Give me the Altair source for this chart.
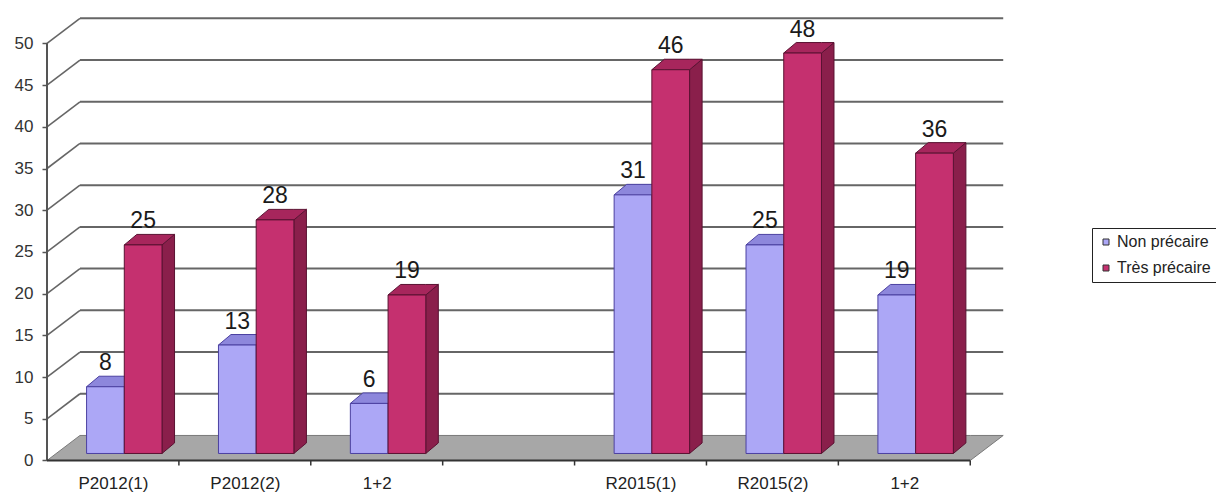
import json

import altair as alt
import pandas as pd

# ---- data -------------------------------------------------------------
categories = ["P2012(1)", "P2012(2)", "1+2", "R2015(1)", "R2015(2)", "1+2"]
slots = [0, 1, 2, 4, 5, 6]          # slot 3 stays empty between the two periods
series = ["Non précaire", "Très précaire"]
non_precaire = [8, 13, 6, 31, 25, 19]
tres_precaire = [25, 28, 19, 46, 48, 36]
y_ticks = list(range(0, 55, 5))

# ---- styling ----------------------------------------------------------
front_colors = ["#aca7f6", "#c5306f"]
top_colors = ["#8d87dc", "#a7265c"]
side_colors = ["#7c76c9", "#8a1f4b"]
edge_colors = ["#4b40a0", "#5a1232"]
FONT = "Liberation Sans"

# pseudo-3D projection, expressed in data units (x: slots, y: values)
N_SLOTS = 7
WALL_DX, WALL_DY = 0.25, 3.0      # depth of floor and side wall
BAR_DX, BAR_DY = 0.095, 1.26      # depth of a single bar
BAR_BASE = 0.84                   # bars stand a little behind the front edge
BAR_LEFT = [0.30, 0.586]          # left edge of each series inside a slot
BAR_W = 0.286

X_DOMAIN = [0, 7.4]
Y_DOMAIN = [-1.5, 54]
PX_PER_SLOT = 131.9
PX_PER_UNIT = 8.34
W = round((X_DOMAIN[1] - X_DOMAIN[0]) * PX_PER_SLOT)
H = round((Y_DOMAIN[1] - Y_DOMAIN[0]) * PX_PER_UNIT)
PAD_L, PAD_T, PAD_B = 47, 10, 20
PAD_R = 1216 - PAD_L - W

values = [non_precaire, tres_precaire]

# ---- derived geometry tables -------------------------------------------
fronts, tops, sides, labels = [], [], [], []
for i, name in enumerate(series):
    for j, (slot, v) in enumerate(zip(slots, values[i])):
        xl = slot + BAR_LEFT[i]
        xr = xl + BAR_W
        b = BAR_BASE
        t = BAR_BASE + v
        fid = f"{i}-{j}"
        fronts.append(dict(x=xl, x2=xr, y=b, y2=t, serie=name, edge=edge_colors[i]))
        for px, lo, hi in [(xl, t, t), (xl + BAR_DX, t, t + BAR_DY),
                           (xr, t, t + BAR_DY), (xr + BAR_DX, t + BAR_DY, t + BAR_DY)]:
            tops.append(dict(x=px, y=lo, y2=hi, face=fid, fill=top_colors[i], edge=edge_colors[i]))
        for px, lo, hi in [(xr, b, t), (xr + BAR_DX, b + BAR_DY, t + BAR_DY)]:
            sides.append(dict(x=px, y=lo, y2=hi, face=fid, fill=side_colors[i], edge=edge_colors[i]))
        labels.append(dict(x=xl + BAR_W / 2, y=t + BAR_DY, text=str(v)))

fronts, tops, sides, labels = map(pd.DataFrame, (fronts, tops, sides, labels))

grid_vals = [v for v in y_ticks if v > 0]
back_grid = pd.DataFrame(dict(x=[WALL_DX] * len(grid_vals),
                              x2=[N_SLOTS + WALL_DX] * len(grid_vals),
                              y=[v + WALL_DY for v in grid_vals]))
side_grid = pd.DataFrame(dict(x=[0] * len(grid_vals), x2=[WALL_DX] * len(grid_vals),
                              y=grid_vals, y2=[v + WALL_DY for v in grid_vals]))
floor = pd.DataFrame(dict(x=[0, WALL_DX, N_SLOTS, N_SLOTS + WALL_DX],
                          y=[0, 0, 0, WALL_DY],
                          y2=[0, WALL_DY, WALL_DY, WALL_DY]))
x_line = pd.DataFrame(dict(x=[0], x2=[N_SLOTS], y=[0]))
y_line = pd.DataFrame(dict(x=[0], y=[0], y2=[max(y_ticks)]))
x_ticks = pd.DataFrame(dict(x=list(range(1, N_SLOTS + 1)), y=[0] * N_SLOTS,
                            y2=[-0.6] * N_SLOTS))

# ---- shared scales / axes ---------------------------------------------
slot_names = [""] * N_SLOTS
for s, c in zip(slots, categories):
    slot_names[s] = c
x_scale = alt.Scale(domain=X_DOMAIN, nice=False, zero=False)
y_scale = alt.Scale(domain=Y_DOMAIN, nice=False, zero=False)
x_axis = alt.Axis(values=[s + 0.5 for s in slots],
                  labelExpr=f"{json.dumps(slot_names)}[floor(datum.value)]",
                  domain=False, ticks=False, tickSize=0, grid=False, title=None,
                  labelFontSize=17, labelFont=FONT, labelColor="#222",
                  labelPadding=2, labelFlush=False, labelOverlap=False)
y_axis = alt.Axis(values=y_ticks, domain=False, grid=False, title=None,
                  tickSize=5, tickColor="#555", tickWidth=1.5,
                  labelFontSize=17, labelFont=FONT, labelColor="#333",
                  labelPadding=9)


def X(field="x"):
    return alt.X(f"{field}:Q", scale=x_scale, axis=x_axis)


def Y(field="y"):
    return alt.Y(f"{field}:Q", scale=y_scale, axis=y_axis, stack=None)


# ---- layers -----------------------------------------------------------
floor_layer = alt.Chart(floor).mark_area(
    color="#a7a7a7", stroke="#7a7a7a", strokeWidth=1, interpolate="linear"
).encode(x=X(), y=Y(), y2="y2:Q")

back_grid_layer = alt.Chart(back_grid).mark_rule(
    color="#666666", strokeWidth=2
).encode(x=X(), x2="x2:Q", y=Y())

side_grid_layer = alt.Chart(side_grid).mark_rule(
    color="#666666", strokeWidth=1.6
).encode(x=X(), x2="x2:Q", y=Y(), y2="y2:Q")

y_line_layer = alt.Chart(y_line).mark_rule(
    color="#555", strokeWidth=2
).encode(x=X(), y=Y(), y2="y2:Q")

x_line_layer = alt.Chart(x_line).mark_rule(
    color="#333", strokeWidth=2
).encode(x=X(), x2="x2:Q", y=Y())

x_tick_layer = alt.Chart(x_ticks).mark_rule(
    color="#333", strokeWidth=1.5
).encode(x=X(), y=Y(), y2="y2:Q")

side_layer = alt.Chart(sides).mark_area(strokeWidth=1, interpolate="linear").encode(
    x=X(), y=Y(), y2="y2:Q", detail="face:N",
    fill=alt.Fill("fill:N", scale=None), stroke=alt.Stroke("edge:N", scale=None))

top_layer = alt.Chart(tops).mark_area(strokeWidth=1, interpolate="linear").encode(
    x=X(), y=Y(), y2="y2:Q", detail="face:N",
    fill=alt.Fill("fill:N", scale=None), stroke=alt.Stroke("edge:N", scale=None))

front_layer = alt.Chart(fronts).mark_rect(strokeWidth=1).encode(
    x=X(), x2="x2:Q", y=Y(), y2="y2:Q",
    color=alt.Color("serie:N",
                    scale=alt.Scale(domain=series, range=front_colors),
                    legend=alt.Legend(title=None, orient="none", direction="vertical",
                                      legendX=1092 - PAD_L, legendY=228 - PAD_T,
                                      strokeColor="#222", fillColor="white", padding=6,
                                      symbolType="square", symbolSize=36,
                                      symbolStrokeColor="#333", symbolStrokeWidth=1,
                                      labelFontSize=16, labelFont=FONT,
                                      labelColor="#222", rowPadding=10, labelOffset=3)),
    stroke=alt.Stroke("edge:N", scale=None))

label_layer = alt.Chart(labels).mark_text(
    fontSize=23, font=FONT, color="#1a1a1a", baseline="bottom", align="center", dy=-1
).encode(x=X(), y=Y(), text="text:N")

chart = alt.layer(
    floor_layer, back_grid_layer, side_grid_layer, y_line_layer,
    side_layer, top_layer, front_layer,
    x_line_layer, x_tick_layer, label_layer,
).properties(
    width=W, height=H,
    padding={"left": PAD_L, "top": PAD_T, "right": PAD_R, "bottom": PAD_B},
    autosize=alt.AutoSizeParams(type="none"),
    background="white",
).configure(font=FONT).configure_view(strokeWidth=0, stroke=None)

chart.save("out.html", embed_options={"renderer": "svg", "actions": False})
